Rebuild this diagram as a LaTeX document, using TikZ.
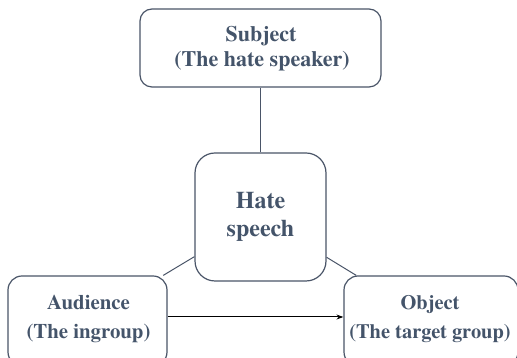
\documentclass[tikz,border=0pt]{standalone}
\usepackage{fontspec}
\newfontfamily\tnrb{TeX Gyre Termes}[UprightFont=*-Bold]
\usetikzlibrary{arrows.meta}
\definecolor{txt}{HTML}{44546A}
\definecolor{edge}{HTML}{4A5568}
\begin{document}
\begin{tikzpicture}[x=1pt,y=1pt,
  box/.style={draw=edge, line width=1.2pt, fill=white, inner sep=0pt},
  lbl/.style={anchor=base, text=txt, inner sep=0pt},
  conn/.style={draw=edge, line width=1pt}]
\useasboundingbox (0,0) rectangle (517,358);
% boxes
\node[box, rounded corners=12pt, minimum width=241pt, minimum height=78pt] (subj) at (260.5,310) {};
\node[box, rounded corners=20pt, minimum width=131pt, minimum height=128pt] (hate) at (260.5,141) {};
\node[box, rounded corners=14pt, minimum width=159pt, minimum height=90pt] (aud) at (87.5,37) {};
\node[box, rounded corners=14pt, minimum width=174pt, minimum height=90pt] (obj) at (431,37) {};
% connectors
\draw[conn] (subj) -- (hate);
\draw[conn] (aud) -- (hate);
\draw[conn] (hate) -- (obj);
\draw[black, line width=1pt, -{Stealth[length=7pt,width=5pt]}] ([yshift=4pt]aud.east) -- ([yshift=4pt]obj.west);
% labels
\begin{scope}[font={\tnrb\fontsize{22}{26}\selectfont}]
\node[lbl] (subj1) at (261,316.3) {Subject};
\node[lbl] (subj2) at (262,291.3) {(The hate speaker)};
\end{scope}
\begin{scope}[font={\tnrb\fontsize{24}{28}\selectfont}]
\node[lbl] (hate1) at (260.5,149) {Hate};
\node[lbl] (hate2) at (260.5,121) {speech};
\end{scope}
\begin{scope}[font={\tnrb\fontsize{20.8}{28}\selectfont}]
\node[lbl] (aud1) at (88.5,48) {Audience};
\node[lbl] (aud2) at (88.5,19) {(The ingroup)};
\end{scope}
\begin{scope}[font={\tnrb\fontsize{20.4}{28}\selectfont}]
\node[lbl] (obj1) at (430,48) {Object};
\node[lbl] (obj2) at (430,19) {(The target group)};
\end{scope}
\end{tikzpicture}
\end{document}
